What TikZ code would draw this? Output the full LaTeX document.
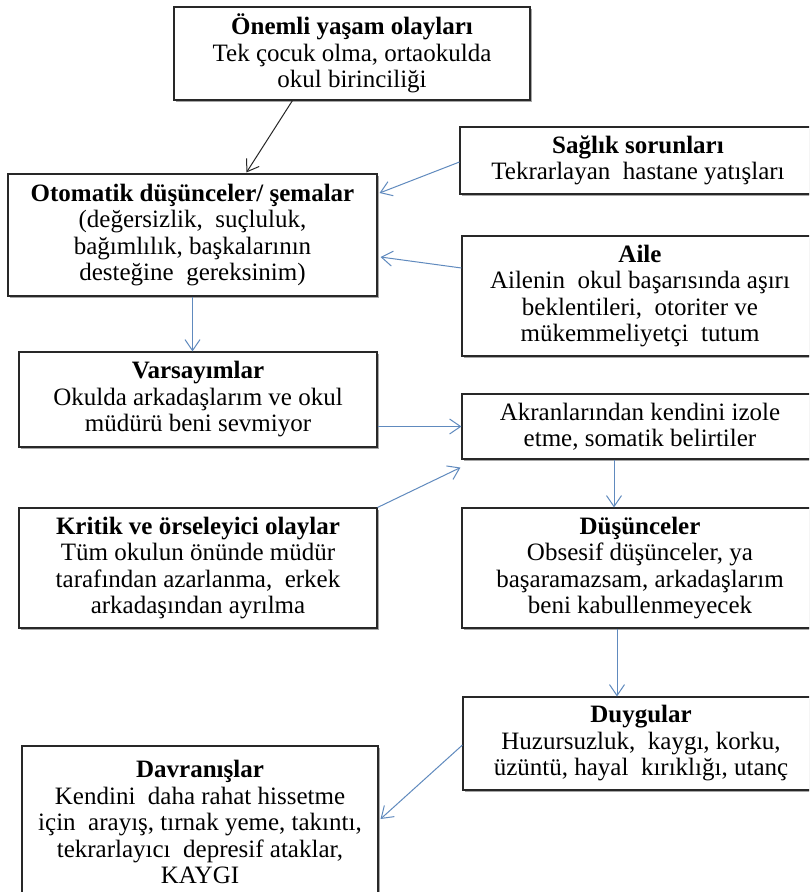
\documentclass[tikz,border=0pt]{standalone}
\usepackage{fontspec}
\setmainfont{Liberation Serif}
\usetikzlibrary{arrows.meta,shadows}
\definecolor{arrblue}{RGB}{96,138,190}
\definecolor{boxline}{RGB}{40,40,40}
\tikzset{
  box/.style={draw=boxline, line width=1.1pt, fill=white, align=center,
    inner sep=2pt, font=\fontsize{25}{26.5}\selectfont,
    drop shadow={shadow xshift=1.6pt, shadow yshift=-1.6pt, fill=black!35, opacity=1}},
  bluearrow/.style={draw=arrblue, line width=1pt, -{Straight Barb[length=11pt,width=15pt,line width=1pt]}},
  blackarrow/.style={draw=black!85, line width=1pt, -{Straight Barb[length=11pt,width=15pt,line width=1pt]}}
}
\begin{document}
\begin{tikzpicture}[x=1pt,y=-1pt]
\clip (0,0) rectangle (809,892);
\fill[white] (0,0) rectangle (809,892);

\node[box, minimum width=356pt, minimum height=93pt] (oneml) at (352,53.5)
  {\textbf{Önemli yaşam olayları}\\Tek çocuk olma, ortaokulda\\okul birinciliği};
\node[box, minimum width=369pt, minimum height=122pt] (oto) at (192.5,235)
  {\textbf{Otomatik düşünceler/ şemalar}\\(değersizlik,~ suçluluk,\\bağımlılık, başkalarının\\desteğine~ gereksinim)};
\node[box, minimum width=356pt, minimum height=67pt] (sag) at (638,160.5)
  {\textbf{Sağlık sorunları}\\Tekrarlayan~ hastane yatışları};
\node[box, minimum width=356pt, minimum height=120pt] (aile) at (640,296)
  {\textbf{Aile}\\Ailenin~ okul başarısında aşırı\\beklentileri,~ otoriter ve\\mükemmeliyetçi~ tutum};
\node[box, minimum width=358pt, minimum height=95pt] (var) at (198,399.5)
  {\textbf{Varsayımlar}\\Okulda arkadaşlarım ve okul\\müdürü beni sevmiyor};
\node[box, minimum width=356pt, minimum height=65pt] (akr) at (640,426.5)
  {Akranlarından kendini izole\\etme, somatik belirtiler};
\node[box, minimum width=358pt, minimum height=120pt] (krit) at (198,568)
  {\textbf{Kritik ve örseleyici olaylar}\\Tüm okulun önünde müdür\\tarafından azarlanma,~ erkek\\arkadaşından ayrılma};
\node[box, minimum width=356pt, minimum height=120pt] (dus) at (640,568)
  {\textbf{Düşünceler}\\Obsesif düşünceler, ya\\başaramazsam, arkadaşlarım\\beni kabullenmeyecek};
\node[box, minimum width=356pt, minimum height=93pt] (duy) at (641,743.5)
  {\textbf{Duygular}\\Huzursuzluk,~ kaygı, korku,\\üzüntü, hayal~ kırıklığı, utanç};
\node[box, minimum width=356pt, minimum height=152pt] (dav) at (200,822)
  {\textbf{Davranışlar}\\Kendini~ daha rahat hissetme\\için~ arayış, tırnak yeme, takıntı,\\tekrarlayıcı~ depresif ataklar,\\KAYGI};

\draw[blackarrow] ([xshift=119pt]oneml.south west) -- ([xshift=239pt,yshift=1pt]oto.north west);
\draw[bluearrow] ([yshift=-1.5pt]sag.west) -- ([xshift=2pt,yshift=42pt]oto.east);
\draw[bluearrow] ([yshift=28pt]aile.west) -- ([xshift=3pt,yshift=-22pt]oto.east);
\draw[bluearrow] (oto.south) -- (oto.south |- var.north);
\draw[bluearrow] (akr.west -| var.east) -- (akr.west);
\draw[bluearrow] (krit.north east) -- ([xshift=-1pt,yshift=-8pt]akr.south west);
\draw[bluearrow] ([xshift=-26pt]akr.south) -- ([xshift=-26pt]dus.north);
\draw[bluearrow] ([xshift=-23pt]dus.south) -- ([xshift=-24pt]duy.north);
\draw[bluearrow] ([yshift=-1.5pt]duy.west) -- ([xshift=2pt,yshift=3pt]dav.east);
\end{tikzpicture}
\end{document}
